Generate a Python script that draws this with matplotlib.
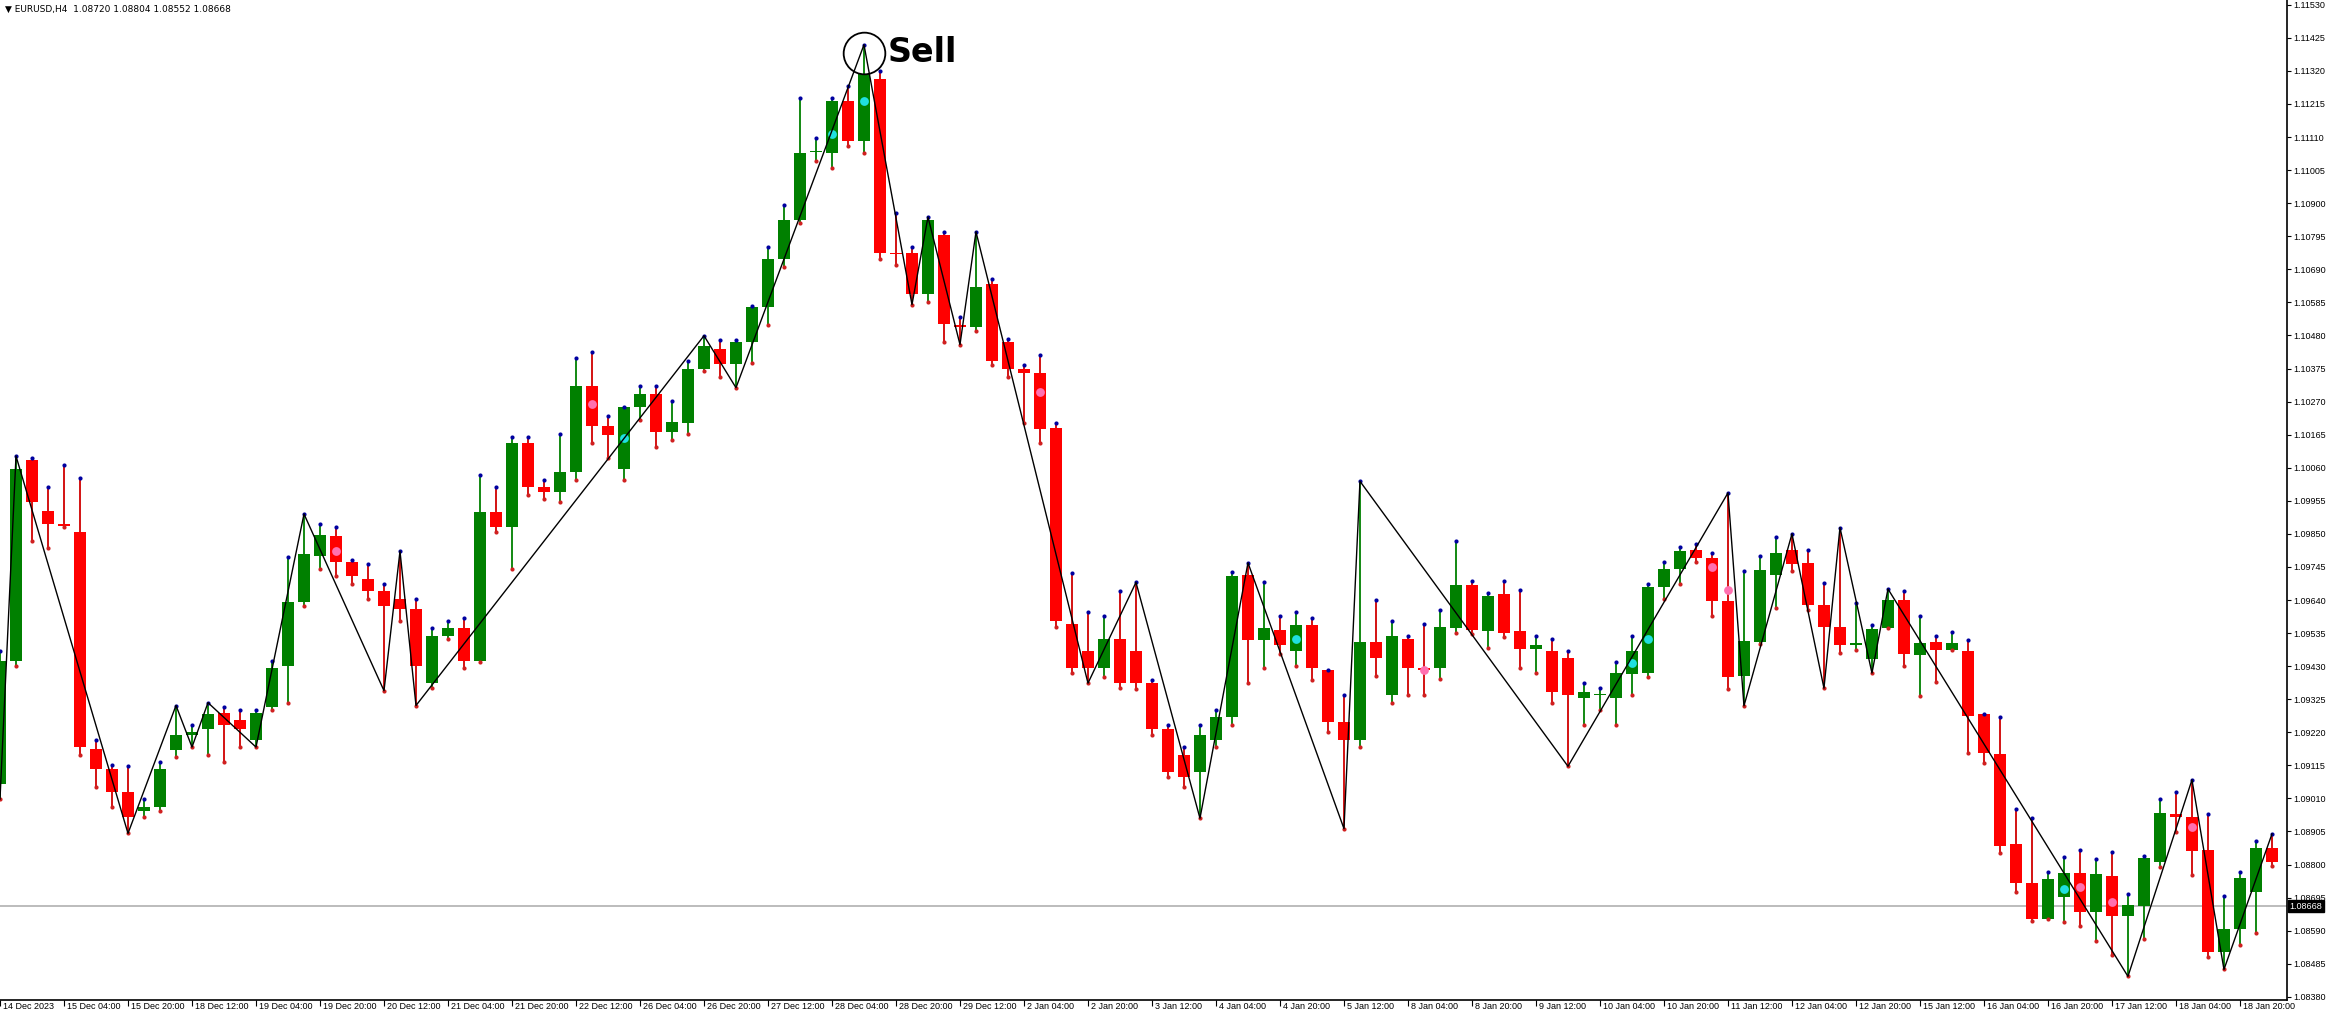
import matplotlib
matplotlib.use("Agg")
import matplotlib.pyplot as plt
import numpy as np

# OHLC, EURUSD H4
opens = [1.09055,1.09446,1.10083,1.09923,1.09880,1.09857,1.09168,1.09102,1.09031,1.08970,
         1.08984,1.09163,1.09211,1.09230,1.09281,1.09258,1.09197,1.09300,1.09432,1.09635,
         1.09781,1.09842,1.09762,1.09706,1.09668,1.09644,1.09611,1.09376,1.09527,1.09550,
         1.09446,1.09918,1.09871,1.10139,1.09998,1.09984,1.10045,1.10319,1.10191,1.10055,
         1.10253,1.10295,1.10172,1.10201,1.10375,1.10437,1.10389,1.10460,1.10569,1.10724,
         1.10847,1.11061,1.11059,1.11224,1.11097,1.11295,1.10743,1.10743,1.10611,1.10800,
         1.10512,1.10507,1.10644,1.10460,1.10375,1.10361,1.10187,1.09564,1.09479,1.09423,
         1.09517,1.09479,1.09376,1.09230,1.09149,1.09093,1.09197,1.09267,1.09720,1.09512,
         1.09545,1.09479,1.09560,1.09418,1.09253,1.09197,1.09508,1.09338,1.09517,1.09423,
         1.09423,1.09550,1.09687,1.09541,1.09659,1.09541,1.09484,1.09479,1.09456,1.09328,
         1.09338,1.09328,1.09404,1.09409,1.09682,1.09739,1.09800,1.09772,1.09638,1.09400,
         1.09508,1.09718,1.09800,1.09757,1.09625,1.09555,1.09496,1.09453,1.09551,1.09641,
         1.09464,1.09506,1.09480,1.09479,1.09277,1.09151,1.08865,1.08742,1.08627,1.08698,
         1.08772,1.08650,1.08763,1.08637,1.08669,1.08809,1.08960,1.08950,1.08846,1.08523,
         1.08597,1.08713,1.08854]
closes = [1.09446,1.10055,1.09951,1.09880,1.09876,1.09173,1.09102,1.09031,1.08951,1.08984,
          1.09102,1.09211,1.09220,1.09277,1.09244,1.09230,1.09281,1.09423,1.09635,1.09786,
          1.09847,1.09762,1.09715,1.09668,1.09621,1.09611,1.09432,1.09527,1.09550,1.09446,
          1.09918,1.09871,1.10139,1.09998,1.09984,1.10045,1.10319,1.10191,1.10163,1.10253,
          1.10295,1.10172,1.10206,1.10375,1.10446,1.10389,1.10460,1.10569,1.10724,1.10847,
          1.11059,1.11065,1.11224,1.11097,1.11309,1.10743,1.10738,1.10611,1.10847,1.10517,
          1.10507,1.10635,1.10399,1.10375,1.10361,1.10182,1.09574,1.09423,1.09423,1.09517,
          1.09376,1.09376,1.09230,1.09093,1.09079,1.09211,1.09267,1.09715,1.09512,1.09550,
          1.09498,1.09560,1.09423,1.09253,1.09197,1.09508,1.09456,1.09527,1.09423,1.09418,
          1.09555,1.09687,1.09545,1.09654,1.09536,1.09484,1.09498,1.09347,1.09338,1.09347,
          1.09343,1.09409,1.09479,1.09682,1.09739,1.09795,1.09772,1.09636,1.09395,1.09510,
          1.09736,1.09790,1.09755,1.09623,1.09553,1.09496,1.09503,1.09549,1.09641,1.09467,
          1.09503,1.09480,1.09503,1.09273,1.09153,1.08860,1.08740,1.08627,1.08754,1.08772,
          1.08648,1.08770,1.08637,1.08671,1.08822,1.08963,1.08950,1.08844,1.08523,1.08597,
          1.08756,1.08854,1.08807]
highs = [1.09479,1.10097,1.10092,1.09998,1.10069,1.10026,1.09196,1.09116,1.09112,1.09008,
         1.09126,1.09305,1.09244,1.09314,1.09300,1.09291,1.09291,1.09446,1.09776,1.09913,
         1.09880,1.09871,1.09767,1.09753,1.09692,1.09795,1.09644,1.09550,1.09574,1.09583,
         1.10036,1.09998,1.10158,1.10158,1.10022,1.10168,1.10408,1.10427,1.10224,1.10253,
         1.10319,1.10319,1.10272,1.10399,1.10479,1.10465,1.10465,1.10573,1.10762,1.10894,
         1.11233,1.11106,1.11233,1.11271,1.11403,1.11318,1.10870,1.10762,1.10856,1.10809,
         1.10540,1.10809,1.10658,1.10470,1.10385,1.10418,1.10201,1.09725,1.09602,1.09588,
         1.09668,1.09696,1.09385,1.09244,1.09173,1.09244,1.09291,1.09729,1.09758,1.09696,
         1.09588,1.09602,1.09583,1.09418,1.09338,1.10017,1.09640,1.09574,1.09527,1.09564,
         1.09607,1.09828,1.09701,1.09663,1.09701,1.09673,1.09527,1.09517,1.09479,1.09376,
         1.09362,1.09442,1.09527,1.09692,1.09762,1.09809,1.09819,1.09790,1.09980,1.09731,
         1.09780,1.09840,1.09850,1.09800,1.09694,1.09870,1.09630,1.09561,1.09675,1.09667,
         1.09590,1.09526,1.09537,1.09512,1.09278,1.09270,1.08978,1.08947,1.08777,1.08825,
         1.08846,1.08817,1.08839,1.08708,1.08827,1.09007,1.09029,1.09069,1.08960,1.08700,
         1.08777,1.08875,1.08897]
lows = [1.09008,1.09432,1.09828,1.09805,1.09871,1.09149,1.09046,1.08984,1.08899,1.08951,
        1.08970,1.09140,1.09173,1.09149,1.09126,1.09173,1.09173,1.09291,1.09314,1.09621,
        1.09739,1.09715,1.09692,1.09644,1.09352,1.09574,1.09305,1.09362,1.09517,1.09423,
        1.09442,1.09857,1.09739,1.09974,1.09960,1.09951,1.10022,1.10139,1.10092,1.10022,
        1.10210,1.10125,1.10149,1.10168,1.10366,1.10347,1.10314,1.10394,1.10512,1.10696,
        1.10837,1.11035,1.11012,1.11082,1.11059,1.10724,1.10705,1.10578,1.10587,1.10460,
        1.10451,1.10493,1.10385,1.10347,1.10201,1.10139,1.09555,1.09409,1.09376,1.09395,
        1.09362,1.09357,1.09211,1.09079,1.09046,1.08947,1.09173,1.09244,1.09376,1.09423,
        1.09470,1.09432,1.09385,1.09220,1.08914,1.09173,1.09399,1.09314,1.09338,1.09338,
        1.09390,1.09536,1.09531,1.09489,1.09522,1.09423,1.09409,1.09314,1.09112,1.09244,
        1.09291,1.09244,1.09338,1.09395,1.09644,1.09692,1.09762,1.09588,1.09357,1.09304,
        1.09500,1.09616,1.09731,1.09607,1.09360,1.09471,1.09482,1.09408,1.09551,1.09429,
        1.09336,1.09381,1.09480,1.09153,1.09124,1.08837,1.08713,1.08621,1.08627,1.08618,
        1.08605,1.08557,1.08514,1.08445,1.08565,1.08791,1.08904,1.08766,1.08505,1.08467,
        1.08544,1.08584,1.08795]

zz_bars = [0, 1, 8, 11, 12, 13, 16, 19, 24, 25, 26, 44, 46, 54, 57, 58, 60, 61, 68, 71, 75, 78,
           84, 85, 98, 108, 109, 112, 114, 115, 117, 118, 133, 137, 139, 142]
zz_kind = ["L", "H"] * 18

cyan_bars = [39, 52, 54, 81, 102, 103, 129]
cyan_vals = [1.10154, 1.11120, 1.11224, 1.09516, 1.09440, 1.09517, 1.08722]
pink_bars = [21, 37, 65, 89, 107, 108, 130, 132, 137]
pink_vals = [1.09795, 1.10263, 1.10300, 1.09418, 1.09745, 1.09672, 1.08730, 1.08680, 1.08920]

time_labels = ["14 Dec 2023", "15 Dec 04:00", "15 Dec 20:00", "18 Dec 12:00", "19 Dec 04:00",
               "19 Dec 20:00", "20 Dec 12:00", "21 Dec 04:00", "21 Dec 20:00", "22 Dec 12:00",
               "26 Dec 04:00", "26 Dec 20:00", "27 Dec 12:00", "28 Dec 04:00", "28 Dec 20:00",
               "29 Dec 12:00", "2 Jan 04:00", "2 Jan 20:00", "3 Jan 12:00", "4 Jan 04:00",
               "4 Jan 20:00", "5 Jan 12:00", "8 Jan 04:00", "8 Jan 20:00", "9 Jan 12:00",
               "10 Jan 04:00", "10 Jan 20:00", "11 Jan 12:00", "12 Jan 04:00", "12 Jan 20:00",
               "15 Jan 12:00", "16 Jan 04:00", "16 Jan 20:00", "17 Jan 12:00", "18 Jan 04:00",
               "18 Jan 20:00"]
price_ticks = [1.08380 + 0.00105 * k for k in range(31)]
current_price = 1.08668
sell_bar = 54

GREEN = "#008000"
RED = "#ff0000"
FONT = "Liberation Sans"

fig = plt.figure(figsize=(23.26, 10.15), dpi=100)
ax = fig.add_axes([0.0, 15 / 1015, 2287 / 2326, 1000 / 1015])

n = len(opens)
x = np.arange(n)
for i in range(n):
    up = closes[i] >= opens[i]
    col = GREEN if up else RED
    wcol = GREEN if up else "#d00000"
    ax.vlines(i, lows[i], highs[i], color=wcol, lw=1.3, zorder=2)
    lo = min(opens[i], closes[i])
    h = max(abs(closes[i] - opens[i]), 0.00003)
    ax.add_patch(plt.Rectangle((i - 0.36, lo), 0.72, h, color=col, lw=0, zorder=3))

ax.scatter(x, highs, s=9, color="#0000a0", zorder=4, lw=0)
ax.scatter(x, lows, s=9, color="#d02020", zorder=4, lw=0)
ax.scatter(cyan_bars, cyan_vals, s=40, color="#20e0e0", zorder=5, lw=0)
ax.scatter(pink_bars, pink_vals, s=40, color="#ff70b0", zorder=5, lw=0)

zz_y = [highs[b] if k == "H" else lows[b] for b, k in zip(zz_bars, zz_kind)]
ax.plot(zz_bars, zz_y, color="black", lw=1.0, zorder=6)

ax.axhline(current_price, color="#b0b0b0", lw=1.2, zorder=1)

ax.plot([sell_bar], [1.11377], "o", ms=30, mfc="none", mec="black", mew=1.3, zorder=7)
ax.text(sell_bar + 1.5, 1.11377, "Sell", fontsize=24, fontweight="bold", va="center", ha="left")

ax.set_xlim(0, 142.94)
ax.set_ylim(1.08370, 1.11545)
for s in ["left", "top"]:
    ax.spines[s].set_visible(False)
ax.spines["right"].set_linewidth(1.2)
ax.spines["bottom"].set_linewidth(1.2)

ax.yaxis.tick_right()
ax.set_yticks(price_ticks)
ax.set_yticklabels([f"{p:.5f}" for p in price_ticks], fontsize=6.5, family=FONT)
ax.tick_params(axis="y", length=3, pad=1.5)

ax.set_xticks([4 * k for k in range(len(time_labels))])
ax.set_xticklabels([])
ax.tick_params(axis="x", length=4, direction="out")
for k, lab in enumerate(time_labels):
    ax.text(4 * k + 0.2, -0.002, lab, transform=ax.get_xaxis_transform(), fontsize=6.5,
            family=FONT, ha="left", va="top")

ax.text(1.001, current_price, "1.08668", transform=ax.get_yaxis_transform(),
        fontsize=6.5, family=FONT, color="white", va="center", ha="left",
        bbox=dict(facecolor="black", edgecolor="black", pad=1.2))

fig.text(0.002, 0.995, "▼ EURUSD,H4  1.08720 1.08804 1.08552 1.08668", fontsize=6.5,
         family="DejaVu Sans", va="top", ha="left")

fig.savefig("out.png", dpi=100)
